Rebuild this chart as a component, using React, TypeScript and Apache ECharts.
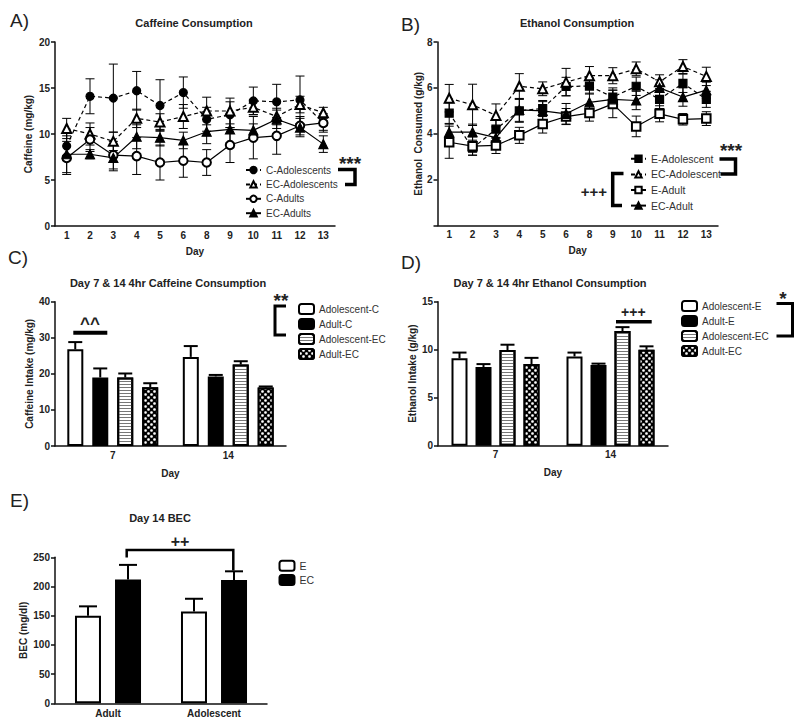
import React, { useEffect, useRef } from "react";
import * as echarts from "echarts";

const FONT = "Liberation Sans, Arial, sans-serif";

// Panel A – caffeine consumption per day
const daysAB = ["1", "2", "3", "4", "5", "6", "8", "9", "10", "11", "12", "13"];
const cAdolescents = [8.7, 14.1, 13.9, 14.7, 13.1, 14.5, 11.6, 12.1, 13.6, 13.5, 13.7, 11.2];
const cAdolescentsErr = [1.5, 1.9, 3.7, 2.1, 2.8, 1.7, 1.3, 1.4, 1.5, 1.9, 2.6, 0.8];
const ecAdolescents = [10.6, 10.0, 9.2, 11.7, 11.3, 11.9, 12.5, 12.5, 12.9, 11.9, 13.2, 12.3];
const ecAdolescentsErr = [1.1, 1.2, 1.0, 1.0, 0.9, 1.3, 1.5, 1.4, 0.8, 0.9, 0.9, 0.6];
const cAdults = [7.4, 9.4, 7.7, 7.6, 6.9, 7.1, 6.9, 8.8, 9.6, 9.8, 10.9, 11.2];
const cAdultsErr = [1.8, 1.3, 1.5, 2.0, 1.9, 1.8, 1.4, 1.9, 2.3, 2.0, 1.0, 1.0];
const ecAdults = [7.8, 7.8, 7.4, 9.7, 9.6, 9.3, 10.25, 10.5, 10.4, 11.6, 10.7, 8.9];
const ecAdultsErr = [2.0, 0.5, 1.4, 1.3, 0.9, 0.9, 1.3, 1.5, 0.7, 1.0, 1.0, 0.9];

// Panel B – ethanol consumption per day
const eAdolescent = [4.9, 3.37, 4.2, 5.0, 5.1, 6.06, 6.08, 5.6, 6.07, 5.5, 6.2, 5.5];
const eAdolescentErr = [0.45, 0.3, 0.4, 0.5, 0.35, 0.4, 0.35, 0.4, 0.4, 0.4, 0.4, 0.35];
const ecAdolescent = [5.55, 5.26, 4.8, 6.07, 5.96, 6.25, 6.53, 6.53, 6.83, 6.27, 6.93, 6.5];
const ecAdolescentErr = [0.6, 0.9, 0.5, 0.55, 0.3, 0.6, 0.4, 0.35, 0.3, 0.3, 0.3, 0.4];
const eAdult = [3.63, 3.46, 3.49, 3.93, 4.43, 4.75, 4.9, 5.3, 4.32, 4.87, 4.63, 4.66];
const eAdultErr = [0.7, 0.4, 0.35, 0.35, 0.4, 0.35, 0.35, 0.6, 0.45, 0.35, 0.25, 0.3];
const ecAdult = [4.07, 4.07, 3.83, 5.04, 5.0, 4.87, 5.37, 5.5, 5.45, 6.0, 5.6, 5.9];
const ecAdultErr = [0.35, 0.35, 0.3, 0.5, 0.4, 0.45, 0.4, 0.4, 0.4, 0.35, 0.4, 0.35];

// Panel C – day 7 & 14 4hr caffeine
const daysCD = ["7", "14"];
const adolC = [26.8, 24.7];
const adolCErr = [2.0, 3.0];
const adultC = [19.0, 19.3];
const adultCErr = [2.5, 0.4];
const adolECc = [19.0, 22.6];
const adolECcErr = [1.1, 0.9];
const adultECc = [16.3, 16.2];
const adultECcErr = [1.1, 0.3];

// Panel D – day 7 & 14 4hr ethanol
const adolE = [9.1, 9.3];
const adolEErr = [0.6, 0.4];
const adultE = [8.2, 8.4];
const adultEErr = [0.3, 0.15];
const adolECd = [9.97, 11.95];
const adolECdErr = [0.55, 0.4];
const adultECd = [8.5, 10.0];
const adultECdErr = [0.65, 0.35];

// Panel E – day 14 BEC
const groupsE = ["Adult", "Adolescent"];
const becE = [150, 157];
const becEErr = [16, 22];
const becEC = [212, 211];
const becECErr = [25, 15];

const axisLineStyle = { color: "#111", width: 1.5 };
const tickLabel = { fontFamily: FONT, fontWeight: "bold" as const, fontSize: 10, color: "#222" };
const nameStyle = { fontFamily: FONT, fontWeight: "bold" as const, fontSize: 10, color: "#222" };

function errSeries(
  xi: number,
  values: number[],
  errs: number[],
  offset: number,
  both: boolean,
  capW: number,
  lw: number
) {
  return {
    type: "custom",
    xAxisIndex: xi,
    yAxisIndex: xi,
    z: 5,
    silent: true,
    data: values.map((v, i) => [i, both ? v - errs[i] : v, v + errs[i]]),
    encode: { x: 0, y: [1, 2] },
    renderItem: (params: any, api: any) => {
      const i = api.value(0);
      const top = api.coord([i, api.value(2)]);
      const bot = api.coord([i, api.value(1)]);
      const x = top[0] + offset;
      const style = { stroke: "#000", lineWidth: lw, fill: "none" };
      const children: any[] = [
        { type: "line", shape: { x1: x, y1: top[1], x2: x, y2: bot[1] }, style },
        { type: "line", shape: { x1: x - capW, y1: top[1], x2: x + capW, y2: top[1] }, style },
      ];
      if (both) {
        children.push({ type: "line", shape: { x1: x - capW, y1: bot[1], x2: x + capW, y2: bot[1] }, style });
      }
      return { type: "group", children };
    },
  };
}

function lineSeries(name: string, xi: number, data: number[], symbol: string, size: number, dashed: boolean) {
  return {
    name,
    type: "line",
    xAxisIndex: xi,
    yAxisIndex: xi,
    data,
    z: 10,
    symbol,
    symbolSize: size,
    showSymbol: true,
    itemStyle: { color: "#000", borderColor: "#000", borderWidth: 1.2 },
    lineStyle: { color: "#000", width: 1.2, type: dashed ? [4, 3] : "solid" },
  };
}

const stripeDecal = {
  symbol: "rect",
  symbolSize: 1,
  dashArrayX: [1, 0],
  dashArrayY: [1, 2],
  color: "#777",
  rotation: 0,
};
const dotDecal = {
  symbol: "circle",
  symbolSize: 0.9,
  dashArrayX: [
    [2.5, 2.5],
    [0, 2.5, 2.5, 0],
  ],
  dashArrayY: [2.5, 0],
  color: "#fff",
  rotation: 0,
};

function barSeries(name: string, xi: number, data: number[], kind: string, barWidth: number, barGap: string) {
  const itemStyle: any = { borderColor: "#000", borderWidth: 2 };
  if (kind === "white") itemStyle.color = "#fff";
  if (kind === "black") itemStyle.color = "#000";
  if (kind === "stripe") {
    itemStyle.color = "#fff";
    itemStyle.decal = stripeDecal;
  }
  if (kind === "dots") {
    itemStyle.color = "#000";
    itemStyle.decal = dotDecal;
  }
  return {
    name,
    type: "bar",
    xAxisIndex: xi,
    yAxisIndex: xi,
    data,
    barWidth,
    barGap,
    z: 3,
    itemStyle,
  };
}

function offsets(n: number, w: number, gap: number) {
  return Array.from({ length: n }, (_, k) => (k - (n - 1) / 2) * (w + gap));
}

function catAxis(gi: number, data: string[], name: string, nameGap: number, margin: number) {
  return {
    type: "category",
    gridIndex: gi,
    data,
    boundaryGap: true,
    axisLine: { lineStyle: axisLineStyle },
    axisTick: { alignWithLabel: true, length: 4, lineStyle: { color: "#111", width: 1.5 } },
    axisLabel: { ...tickLabel, margin },
    name,
    nameLocation: "middle",
    nameGap,
    nameTextStyle: nameStyle,
    splitLine: { show: false },
  };
}

function valAxis(gi: number, max: number, interval: number, name: string, nameGap: number, hideZero = false) {
  return {
    type: "value",
    gridIndex: gi,
    min: 0,
    max,
    interval,
    axisLine: { show: true, lineStyle: axisLineStyle },
    axisTick: { show: true, length: 4, lineStyle: { color: "#111", width: 1.5 } },
    axisLabel: {
      ...tickLabel,
      margin: 5,
      formatter: (v: number) => (hideZero && v === 0 ? "" : String(v)),
    },
    splitLine: { show: false },
    name,
    nameLocation: "middle",
    nameGap,
    nameTextStyle: nameStyle,
  };
}

function txt(text: string, x: number, y: number, size: number, weight = "normal", align = "center", color = "#222") {
  return {
    type: "text",
    x,
    y,
    z: 20,
    style: {
      text,
      font: `${weight} ${size}px ${FONT}`,
      fill: color,
      textAlign: align,
      textVerticalAlign: "middle",
      align,
      verticalAlign: "middle",
    },
  };
}

function pl(points: number[][], lw: number) {
  return {
    type: "polyline",
    z: 20,
    shape: { points },
    style: { stroke: "#000", lineWidth: lw, fill: "none" },
  };
}

const legendBase = {
  orient: "vertical",
  padding: 0,
  itemWidth: 15,
  itemHeight: 10,
  textStyle: { fontFamily: FONT, fontSize: 10, color: "#333" },
  selectedMode: false,
};

export default function App() {
  const ref = useRef<HTMLDivElement>(null);
  useEffect(() => {
    if (!ref.current) return;
    const chart = echarts.init(ref.current, undefined, { renderer: "svg" });

    const offC = offsets(4, 16, 9);
    const offD = offsets(4, 16, 8);
    const offE = offsets(2, 26, 14);

    const option: any = {
      animation: false,
      backgroundColor: "#fff",
      grid: [
        { left: 55, top: 42, width: 280, height: 184, containLabel: false, outerBoundsMode: "none" },
        { left: 437.5, top: 42, width: 280.5, height: 183.5, containLabel: false, outerBoundsMode: "none" },
        { left: 55, top: 301.7, width: 231, height: 144.3, containLabel: false, outerBoundsMode: "none" },
        { left: 438, top: 301.7, width: 230, height: 144, containLabel: false, outerBoundsMode: "none" },
        { left: 55, top: 557.3, width: 212, height: 146, containLabel: false, outerBoundsMode: "none" },
      ],
      xAxis: [
        catAxis(0, daysAB, "Day", 20, 4),
        catAxis(1, daysAB, "Day", 20, 4),
        catAxis(2, daysCD, "Day", 22, 4),
        catAxis(3, daysCD, "Day", 22, 4),
        catAxis(4, groupsE, "", 0, 5),
      ],
      yAxis: [
        valAxis(0, 20, 5, "Caffeine (mg/kg)", 22),
        valAxis(1, 8, 2, "Ethanol  Consumed (g/kg)", 13, true),
        valAxis(2, 40, 10, "Caffeine Intake (mg/kg)", 20),
        valAxis(3, 15, 5, "Ethanol Intake (g/kg)", 19),
        valAxis(4, 250, 50, "BEC (mg/dl)", 27),
      ],
      legend: [
        {
          ...legendBase,
          left: 245,
          top: 165,
          itemHeight: 8,
          itemGap: 4.4,
          data: ["C-Adolescents", "EC-Adolescents", "C-Adults", "EC-Adults"],
        },
        {
          ...legendBase,
          left: 630,
          top: 153.3,
          itemHeight: 8,
          itemGap: 4.6,
          textStyle: { ...legendBase.textStyle, fontSize: 10.5 },
          data: ["E-Adolescent", "EC-Adolescent", "E-Adult", "EC-Adult"],
        },
        {
          ...legendBase,
          left: 298,
          top: 303,
          itemGap: 3,
          itemStyle: { borderColor: "#000", borderWidth: 2 },
          data: ["Adolescent-C", "Adult-C", "Adolescent-EC", "Adult-EC"],
        },
        {
          ...legendBase,
          left: 681,
          top: 300,
          itemGap: 3,
          itemStyle: { borderColor: "#000", borderWidth: 2 },
          data: ["Adolescent-E", "Adult-E", "Adolescent-EC", "Adult-EC"],
        },
        {
          ...legendBase,
          left: 278.5,
          top: 559.7,
          itemGap: 2.3,
          textStyle: { ...legendBase.textStyle, fontSize: 10.5 },
          itemStyle: { borderColor: "#000", borderWidth: 2 },
          data: ["E", "EC"],
        },
      ],
      series: [
        // Panel A
        errSeries(0, cAdolescents, cAdolescentsErr, 0, true, 4.5, 1),
        errSeries(0, ecAdolescents, ecAdolescentsErr, 0, true, 4.5, 1),
        errSeries(0, cAdults, cAdultsErr, 0, true, 4.5, 1),
        errSeries(0, ecAdults, ecAdultsErr, 0, true, 4.5, 1),
        lineSeries("C-Adolescents", 0, cAdolescents, "circle", 8, true),
        lineSeries("EC-Adolescents", 0, ecAdolescents, "emptyTriangle", 9, true),
        lineSeries("C-Adults", 0, cAdults, "emptyCircle", 8.5, false),
        lineSeries("EC-Adults", 0, ecAdults, "triangle", 9, false),
        // Panel B
        errSeries(1, eAdolescent, eAdolescentErr, 0, true, 4.5, 1),
        errSeries(1, ecAdolescent, ecAdolescentErr, 0, true, 4.5, 1),
        errSeries(1, eAdult, eAdultErr, 0, true, 4.5, 1),
        errSeries(1, ecAdult, ecAdultErr, 0, true, 4.5, 1),
        lineSeries("E-Adolescent", 1, eAdolescent, "rect", 8, true),
        lineSeries("EC-Adolescent", 1, ecAdolescent, "emptyTriangle", 9, true),
        lineSeries("E-Adult", 1, eAdult, "emptyRect", 8.5, false),
        lineSeries("EC-Adult", 1, ecAdult, "triangle", 9, false),
        // Panel C
        barSeries("Adolescent-C", 2, adolC, "white", 16, "56%"),
        barSeries("Adult-C", 2, adultC, "black", 16, "56%"),
        barSeries("Adolescent-EC", 2, adolECc, "stripe", 16, "56%"),
        barSeries("Adult-EC", 2, adultECc, "dots", 16, "56%"),
        errSeries(2, adolC, adolCErr, offC[0], false, 7, 2),
        errSeries(2, adultC, adultCErr, offC[1], false, 7, 2),
        errSeries(2, adolECc, adolECcErr, offC[2], false, 7, 2),
        errSeries(2, adultECc, adultECcErr, offC[3], false, 7, 2),
        // Panel D
        barSeries("Adolescent-E", 3, adolE, "white", 16, "50%"),
        barSeries("Adult-E", 3, adultE, "black", 16, "50%"),
        barSeries("Adolescent-EC", 3, adolECd, "stripe", 16, "50%"),
        barSeries("Adult-EC", 3, adultECd, "dots", 16, "50%"),
        errSeries(3, adolE, adolEErr, offD[0], false, 7, 2),
        errSeries(3, adultE, adultEErr, offD[1], false, 7, 2),
        errSeries(3, adolECd, adolECdErr, offD[2], false, 7, 2),
        errSeries(3, adultECd, adultECdErr, offD[3], false, 7, 2),
        // Panel E
        barSeries("E", 4, becE, "white", 26, "54%"),
        barSeries("EC", 4, becEC, "black", 26, "54%"),
        errSeries(4, becE, becEErr, offE[0], false, 9, 2),
        errSeries(4, becEC, becECErr, offE[1], false, 9, 2),
      ],
      graphic: [
        // Panel letters
        txt("A)", 10, 20, 19, "normal", "left"),
        txt("B)", 401, 24, 19, "normal", "left"),
        txt("C)", 8, 257, 19, "normal", "left"),
        txt("D)", 401, 262, 19, "normal", "left"),
        txt("E)", 10, 500, 19, "normal", "left"),
        // Titles
        txt("Caffeine Consumption", 194, 23, 11, "bold"),
        txt("Ethanol Consumption", 577, 23, 11, "bold"),
        txt("Day 7 & 14 4hr Caffeine Consumption", 168, 283, 11, "bold"),
        txt("Day 7 & 14 4hr Ethanol Consumption", 550, 283, 11, "bold"),
        txt("Day 14 BEC", 160, 518, 11, "bold"),
        // Panel A significance
        txt("***", 350, 163, 19, "bold"),
        pl([[338, 169.5], [355, 169.5], [355, 184.5], [345, 184.5]], 3.5),
        // Panel B significance
        txt("***", 731, 150, 19, "bold"),
        pl([[719.5, 159], [735.5, 159], [735.5, 174], [720.5, 174]], 3.5),
        txt("+++", 607, 191.7, 15, "bold", "right"),
        pl([[623.5, 173.5], [612.7, 173.5], [612.7, 205.5], [622, 205.5]], 3.5),
        // Panel C significance
        txt("**", 281, 300, 19, "bold"),
        pl([[286, 306], [275, 306], [275, 335], [286, 335]], 3),
        txt("^^", 90, 323, 17, "bold"),
        pl([[73.3, 332.7], [107.3, 332.7]], 4),
        // Panel D significance
        txt("*", 783, 298, 19, "bold"),
        pl([[776.5, 303.5], [792.5, 303.5], [792.5, 336], [776.5, 336]], 3),
        txt("+++", 633.3, 312.3, 14, "bold"),
        pl([[616, 321.7], [651.7, 321.7]], 3.5),
        // Panel E significance
        txt("++", 180, 541.7, 16, "bold"),
        pl([[126.7, 557.5], [126.7, 550], [233.3, 550], [233.3, 570.5]], 2.5),
      ],
    };

    chart.setOption(option);
    return () => chart.dispose();
  }, []);

  return (
    <div
      ref={ref}
      style={{ position: "absolute", left: 0, top: 0, width: 800, height: 727, background: "#fff" }}
    />
  );
}
